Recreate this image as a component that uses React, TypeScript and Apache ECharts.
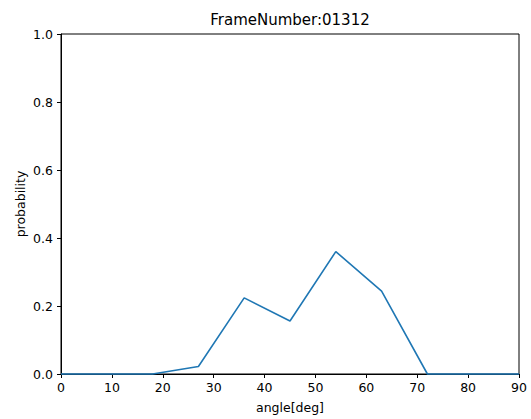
import React, { useEffect, useRef } from "react";
import * as echarts from "echarts";

const angles = [0, 9, 18, 27, 36, 45, 54, 63, 72, 81, 90];
const probabilities = [0, 0, 0, 0.022, 0.224, 0.156, 0.36, 0.244, 0, 0, 0];
const titleText = "FrameNumber:01312";
const xName = "angle[deg]";
const yName = "probability";

const FONT = "DejaVu Sans";
const FS = 12.5;

export default function App() {
  const ref = useRef<HTMLDivElement>(null);
  useEffect(() => {
    document.body.style.margin = "0";
    const chart = echarts.init(ref.current!, null, { renderer: "svg" });
    chart.setOption({
      animation: false,
      backgroundColor: "#ffffff",
      graphic: [
        {
          type: "text",
          x: 290,
          y: 20,
          style: {
            text: titleText,
            fontFamily: FONT,
            fontSize: 15,
            fill: "#000",
            textAlign: "center",
            textVerticalAlign: "middle",
          },
        },
      ],
      grid: {
        left: 61,
        right: 12,
        top: 34,
        bottom: 45,
        show: true,
        borderColor: "#000",
        borderWidth: 1,
      },
      xAxis: {
        type: "value",
        min: 0,
        max: 90,
        interval: 10,
        name: xName,
        nameLocation: "middle",
        nameGap: 27,
        nameMoveOverlap: false,
        nameTextStyle: { fontFamily: FONT, fontSize: FS, color: "#000" },
        axisLine: { show: true, onZero: false, lineStyle: { color: "#000", width: 1 } },
        axisTick: { show: true, inside: false, length: 4, lineStyle: { color: "#000" } },
        axisLabel: { fontFamily: FONT, fontSize: FS, color: "#000", margin: 7 },
        splitLine: { show: false },
      },
      yAxis: {
        type: "value",
        min: 0,
        max: 1,
        interval: 0.2,
        name: yName,
        nameLocation: "middle",
        nameGap: 34,
        nameMoveOverlap: false,
        nameRotate: 90,
        nameTextStyle: { fontFamily: FONT, fontSize: FS, color: "#000" },
        axisLine: { show: true, lineStyle: { color: "#000", width: 1 } },
        axisTick: { show: true, inside: false, length: 4, lineStyle: { color: "#000" } },
        axisLabel: {
          fontFamily: FONT,
          fontSize: FS,
          color: "#000",
          margin: 8,
          formatter: (v: number) => v.toFixed(1),
        },
        splitLine: { show: false },
      },
      series: [
        {
          type: "line",
          data: angles.map((a, i) => [a, probabilities[i]]),
          showSymbol: false,
          symbol: "none",
          lineStyle: { color: "#1f77b4", width: 1.6 },
          clip: false,
        },
      ],
    });
    return () => chart.dispose();
  }, []);
  return (
    <div
      ref={ref}
      style={{ position: "absolute", left: 0, top: 0, width: 531, height: 419 }}
    />
  );
}
